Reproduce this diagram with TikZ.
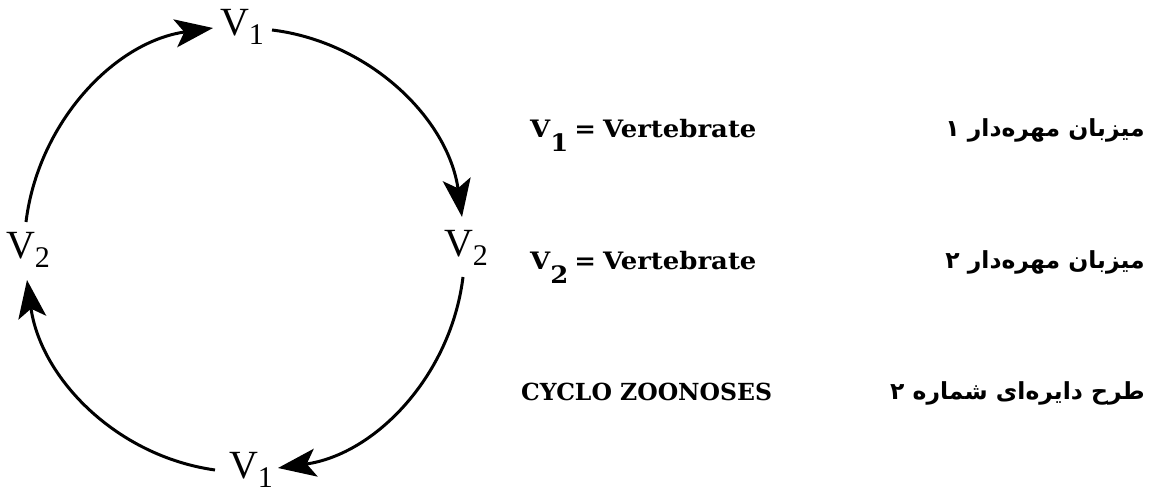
\documentclass[tikz,border=0pt]{standalone}
\usepackage{fontspec}
\setmainfont{Liberation Serif}
\newfontfamily\rowserif[FakeStretch=1.08]{DejaVu Serif}
\newfontfamily\capserif{DejaVu Serif}
\newfontfamily\arabicfont[Script=Arabic]{DejaVu Sans}
\TeXXeTstate=1
\usetikzlibrary{arrows.meta}
\newcommand{\cirlab}[1]{\fontsize{40}{40}\selectfont V\raisebox{-9pt}{\fontsize{30}{30}\selectfont #1}}
\newcommand{\rowlab}[1]{V\raisebox{-14pt}{#1}\hspace{6pt}=\hspace{7pt}Vertebrate}
\begin{document}
\begin{tikzpicture}[x=1pt,y=1pt,
  arr/.style={line width=3pt,-{Stealth[length=38pt,width=28pt,inset=9pt]}},
  lab/.style={inner sep=0pt},
  fa/.style={inner sep=0pt,anchor=base east,font=\arabicfont\bfseries\fontsize{23.5}{23.5}\selectfont},
  en/.style={inner sep=0pt,anchor=base west,font=\rowserif\bfseries\fontsize{24}{24}\selectfont},
  cz/.style={inner sep=0pt,anchor=base west,font=\capserif\bfseries\fontsize{23.5}{23.5}\selectfont}]
\useasboundingbox (0,0) rectangle (1158,494);
\node[lab] (t) at (242,467) {\cirlab{1}};
\node[lab] (r) at (466,246) {\cirlab{2}};
\node[lab] (b) at (251,24) {\cirlab{1}};
\node[lab] (l) at (28,244) {\cirlab{2}};
\draw[arr] ([shift={(-2,28)}]l.center) to[out=83,in=188,looseness=0.95] ([shift={(-29,-1)}]t.center);
\draw[arr] ([shift={(30,-3)}]t.center) to[out=-7,in=98,looseness=0.95] ([shift={(-4,31)}]r.center);
\draw[arr] ([shift={(-3,-29)}]r.center) to[out=-97,in=8,looseness=0.95] ([shift={(27,2)}]b.center);
\draw[arr] ([shift={(-36,0)}]b.center) to[out=172,in=-82,looseness=0.95] ([shift={(-1,-30)}]l.center);
\node[en] (e1) at (530,356) {\rowlab{1}};
\node[en] (e2) at (530,224) {\rowlab{2}};
\node[cz] (e3) at (521,93) {CYCLO ZOONOSES};
\node[fa] (p1) at (1145,357) {\beginR میزبان مهره‌دار ۱\endR};
\node[fa] (p2) at (1145,225) {\beginR میزبان مهره‌دار ۲\endR};
\node[fa] (p3) at (1145,94) {\beginR طرح دایره‌ای شماره ۲\endR};
\end{tikzpicture}
\end{document}
